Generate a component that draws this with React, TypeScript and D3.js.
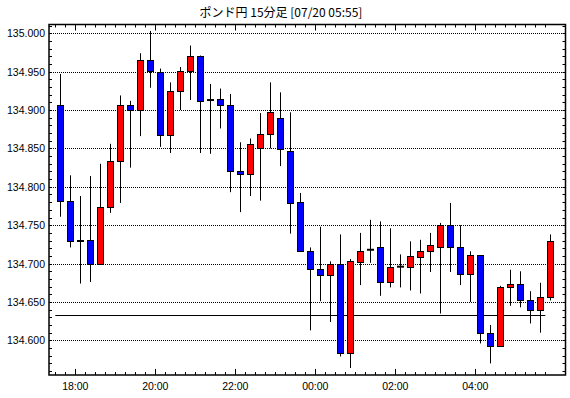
import React, { useRef, useEffect } from 'react';
import * as d3 from 'd3';

// 15-minute candles, 07/19 17:30 -> 07/20 05:45
const opens = [
  134.907, 134.781, 134.729, 134.731, 134.700, 134.774, 134.833, 134.907, 134.900, 134.965,
  134.950, 134.867, 134.925, 134.951, 134.971, 134.913, 134.914, 134.906, 134.821, 134.817,
  134.851, 134.869, 134.889, 134.847, 134.780, 134.717, 134.693, 134.685, 134.699, 134.584,
  134.702, 134.718, 134.721, 134.676, 134.696, 134.695, 134.709, 134.716, 134.721, 134.750,
  134.721, 134.687, 134.711, 134.609, 134.593, 134.670, 134.673, 134.652, 134.639, 134.656,
];
const highs = [
  134.947, 134.815, 134.788, 134.814, 134.830, 134.856, 134.919, 134.912, 134.974, 135.003,
  134.954, 134.936, 134.956, 134.984, 134.971, 134.934, 134.928, 134.921, 134.858, 134.863,
  134.896, 134.936, 134.923, 134.897, 134.792, 134.721, 134.748, 134.703, 134.738, 134.706,
  134.740, 134.757, 134.755, 134.746, 134.712, 134.729, 134.731, 134.740, 134.753, 134.779,
  134.750, 134.716, 134.711, 134.620, 134.671, 134.692, 134.690, 134.664, 134.675, 134.738,
];
const lows = [
  134.761, 134.721, 134.674, 134.676, 134.700, 134.766, 134.779, 134.825, 134.866, 134.929,
  134.852, 134.844, 134.900, 134.913, 134.844, 134.843, 134.876, 134.793, 134.767, 134.788,
  134.782, 134.850, 134.827, 134.739, 134.716, 134.613, 134.651, 134.624, 134.579, 134.564,
  134.672, 134.701, 134.658, 134.669, 134.669, 134.665, 134.661, 134.689, 134.635, 134.689,
  134.672, 134.650, 134.596, 134.570, 134.593, 134.645, 134.643, 134.622, 134.610, 134.652,
];
const closes = [
  134.781, 134.729, 134.731, 134.700, 134.774, 134.833, 134.907, 134.900, 134.965, 134.951,
  134.867, 134.925, 134.951, 134.971, 134.912, 134.913, 134.906, 134.821, 134.817, 134.856,
  134.869, 134.897, 134.849, 134.779, 134.716, 134.693, 134.685, 134.699, 134.584, 134.703,
  134.717, 134.718, 134.676, 134.696, 134.696, 134.710, 134.716, 134.724, 134.750, 134.721,
  134.687, 134.711, 134.609, 134.593, 134.670, 134.673, 134.652, 134.639, 134.656, 134.730,
];

const startTime = new Date(2023, 6, 19, 17, 30);
const times = opens.map((_, i) => d3.timeMinute.offset(startTime, i * 15));

const refLevel = 134.6325;
const yTicks = [134.6, 134.65, 134.7, 134.75, 134.8, 134.85, 134.9, 134.95, 135.0];
const title = 'ポンド円 15分足 [07/20 05:55]';

const width = 570;
const height = 398;

const App = () => {
  const ref = useRef<SVGSVGElement>(null);

  useEffect(() => {
    const svg = d3.select(ref.current);
    svg.selectAll('*').remove();

    const left = 49, right = 565.5, top = 24.5, bottom = 375;

    // 10px per 15 min slot, 18:00 at ~75.3
    const x = d3.scaleTime()
      .domain([d3.timeSecond.offset(startTime, -567), d3.timeSecond.offset(startTime, 764.55 * 60 + 45)])
      .range([left, right]);
    const y = d3.scaleLinear().domain([134.5549, 135.0114]).range([bottom, top]);
    const slot = 10;

    svg.append('rect').attr('width', width).attr('height', height).attr('fill', '#fff');

    // title
    svg.append('text')
      .attr('x', 281)
      .attr('y', 17)
      .attr('text-anchor', 'middle')
      .attr('font-family', '"Noto Sans CJK JP", sans-serif')
      .attr('font-size', 12)
      .attr('fill', '#000')
      .text(title);

    // dotted grid
    svg.append('g')
      .selectAll('line')
      .data(yTicks)
      .enter()
      .append('line')
      .attr('x1', left)
      .attr('x2', right)
      .attr('y1', d => Math.round(y(d)) + 0.5)
      .attr('y2', d => Math.round(y(d)) + 0.5)
      .attr('stroke', '#000')
      .attr('stroke-dasharray', '1,1');

    // y labels
    svg.append('g')
      .selectAll('text')
      .data(yTicks)
      .enter()
      .append('text')
      .attr('x', 45)
      .attr('y', d => Math.round(y(d)) + 4)
      .attr('text-anchor', 'end')
      .attr('font-family', '"Liberation Sans", Arial, sans-serif')
      .attr('font-size', 10.5)
      .attr('fill', '#000')
      .text(d => d3.format('.3f')(d));

    // minor y ticks every 0.01, pointing inward on both sides
    const yMinor = d3.range(134.56, 135.011, 0.01);
    const yt = svg.append('g').attr('stroke', '#000');
    yMinor.forEach(v => {
      const py = Math.round(y(v)) + 0.5;
      yt.append('line').attr('x1', left).attr('x2', left + 3).attr('y1', py).attr('y2', py);
      yt.append('line').attr('x1', right - 3).attr('x2', right).attr('y1', py).attr('y2', py);
    });

    // x ticks at each candle time, long every 2h
    const isMajor = (t: Date) => t.getMinutes() === 0 && t.getHours() % 2 === 0;
    const xt = svg.append('g').attr('stroke', '#000');
    times.forEach(t => {
      const len = isMajor(t) ? 6 : 3;
      const px = Math.round(x(t)) + 0.5;
      xt.append('line').attr('x1', px).attr('x2', px).attr('y1', top).attr('y2', top + len);
      xt.append('line').attr('x1', px).attr('x2', px).attr('y1', bottom - len).attr('y2', bottom);
    });

    svg.append('g')
      .selectAll('text')
      .data(times.filter(isMajor))
      .enter()
      .append('text')
      .attr('x', d => x(d))
      .attr('y', 390)
      .attr('text-anchor', 'middle')
      .attr('font-family', '"Liberation Sans", Arial, sans-serif')
      .attr('font-size', 10.5)
      .attr('fill', '#000')
      .text(d => d3.timeFormat('%H:%M')(d));

    // reference line
    svg.append('line')
      .attr('x1', x(times[0]))
      .attr('x2', x(times[times.length - 1]))
      .attr('y1', Math.round(y(refLevel)) + 0.5)
      .attr('y2', Math.round(y(refLevel)) + 0.5)
      .attr('stroke', '#000');

    // candles
    const g = svg.append('g');
    times.forEach((t, i) => {
      const cx = Math.round(x(t) + slot / 2) + 0.5;
      const o = opens[i], c = closes[i];
      g.append('line')
        .attr('x1', cx).attr('x2', cx)
        .attr('y1', y(highs[i])).attr('y2', y(lows[i]))
        .attr('stroke', '#000');
      if (o === c) {
        g.append('line')
          .attr('x1', cx - 3.5).attr('x2', cx + 3.5)
          .attr('y1', y(o)).attr('y2', y(o))
          .attr('stroke', '#000')
          .attr('stroke-width', 2);
      } else {
        const yTop = Math.round(y(Math.max(o, c))) + 0.5;
        const yBot = Math.round(y(Math.min(o, c))) + 0.5;
        g.append('rect')
          .attr('x', cx - 3)
          .attr('y', yTop)
          .attr('width', 6)
          .attr('height', Math.max(1, yBot - yTop))
          .attr('fill', c > o ? '#ff0000' : '#0000ff')
          .attr('stroke', '#000');
      }
    });

    // frame
    svg.append('rect')
      .attr('x', left)
      .attr('y', top)
      .attr('width', right - left)
      .attr('height', bottom - top)
      .attr('fill', 'none')
      .attr('stroke', '#000')
      .attr('stroke-width', 1.5);
  }, []);

  return (
    <svg
      ref={ref}
      width={width}
      height={height}
      style={{ position: 'absolute', left: 0, top: 0, display: 'block' }}
    />
  );
};

export default App;
